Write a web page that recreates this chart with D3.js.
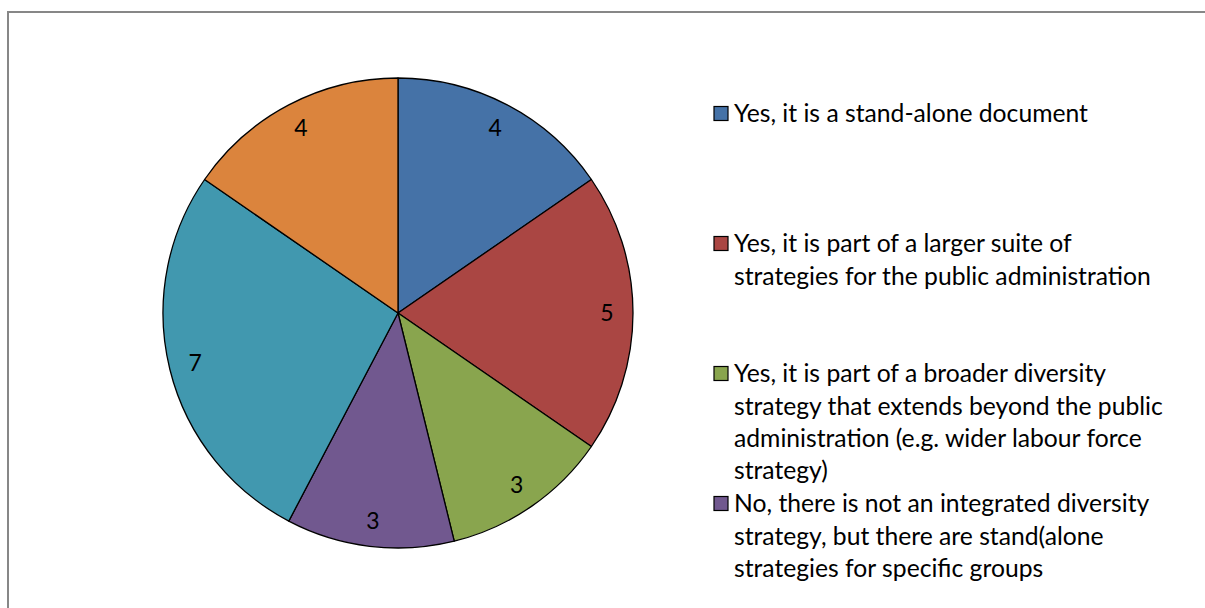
<!DOCTYPE html>
<html>
<head>
<meta charset="utf-8">
<script src="https://cdn.jsdelivr.net/npm/d3@7"></script>
<style>
  html, body { margin: 0; padding: 0; background: #fff; overflow: hidden; }
  svg { display: block; }
  text { font-family: Lato, "Open Sans", sans-serif; fill: #000; }
</style>
</head>
<body>
<script>
// ---- data ----
const categories = [
  ["Yes, it is a stand-alone document"],
  ["Yes, it is part of a larger suite of", "strategies for the public administration"],
  ["Yes, it is part of a broader diversity", "strategy that extends beyond the public", "administration (e.g. wider labour force", "strategy)"],
  ["No, there is not an integrated diversity", "strategy, but there are stand(alone", "strategies for specific groups"],
  ["No, there is not an integrated diversity", "strategy nor stand-alone strategies"],
  ["Other"]
];
const values = [4, 5, 3, 3, 7, 4];
const colors = ["#4572A7", "#AA4643", "#89A54E", "#71588F", "#4198AF", "#DB843D"];

// ---- layout ----
const W = 1205, H = 608;
const svg = d3.select("body").append("svg").attr("width", W).attr("height", H);

// chart area border
svg.append("rect")
  .attr("x", 8).attr("y", 12)
  .attr("width", W + 20).attr("height", H + 20)
  .attr("fill", "#fff").attr("stroke", "#878787").attr("stroke-width", 2);

const cx = 398, cy = 313, R = 235;
const pie = d3.pie().sort(null).value(d => d)(values);
const arc = d3.arc().innerRadius(0).outerRadius(R);
const labelArc = d3.arc().innerRadius(209).outerRadius(209);

const g = svg.append("g").attr("transform", `translate(${cx},${cy})`);
g.selectAll("path.slice").data(pie).enter().append("path")
  .attr("class", "slice")
  .attr("d", arc)
  .attr("fill", (d, i) => colors[i])
  .attr("stroke", "#000").attr("stroke-width", 1.3)
  .attr("stroke-linejoin", "round");

g.selectAll("text.lbl").data(pie).enter().append("text")
  .attr("class", "lbl")
  .attr("transform", d => `translate(${labelArc.centroid(d)})`)
  .attr("text-anchor", "middle")
  .attr("dy", "0.36em")
  .style("font-size", "23px")
  .text(d => d.data);

// legend
const lx = 714, ly0 = 113.5, step = 130, lineH = 32.3, sq = 14;
const leg = svg.append("g");
categories.forEach((lines, i) => {
  const y = ly0 + i * step;
  if (y > H) return;
  leg.append("rect")
    .attr("x", lx).attr("y", y - sq / 2)
    .attr("width", sq).attr("height", sq)
    .attr("fill", colors[i]).attr("stroke", "#000").attr("stroke-width", 1.2);
  const t = leg.append("text").style("font-size", "24.7px");
  lines.forEach((ln, j) => {
    t.append("tspan").attr("x", lx + 20).attr("y", y + j * lineH).attr("dy", "0.36em").text(ln);
  });
});
</script>
</body>
</html>
